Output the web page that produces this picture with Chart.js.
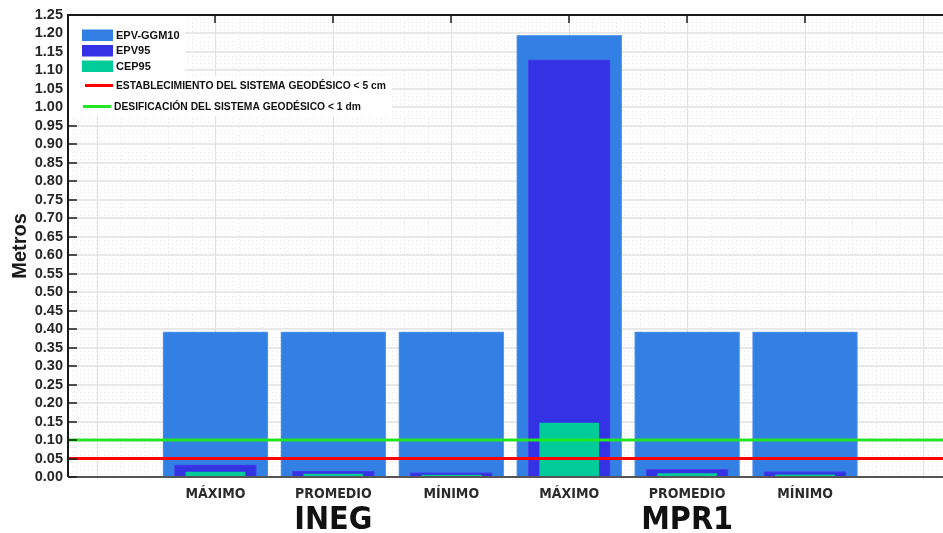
<!DOCTYPE html>
<html>
<head>
<meta charset="utf-8">
<script src="https://cdn.jsdelivr.net/npm/chart.js@4.4.1/dist/chart.umd.min.js"></script>
<style>
  html, body { margin: 0; padding: 0; background: #fff; }
  #wrap { width: 943px; height: 533px; }
</style>
</head>
<body>
<div id="wrap"><canvas id="chart" width="943" height="533"></canvas></div>
<script>
// data
const categories = ['MÁXIMO', 'PROMEDIO', 'MÍNIMO', 'MÁXIMO', 'PROMEDIO', 'MÍNIMO'];
const groups = ['INEG', 'MPR1'];
const epvGgm10 = [0.393, 0.393, 0.393, 1.195, 0.393, 0.393];
const epv95 = [0.033, 0.016, 0.012, 1.129, 0.021, 0.015];
const cep95 = [0.0135, 0.008, 0.005, 0.146, 0.009, 0.006];
const limitEstablecimiento = 0.05;
const limitDesificacion = 0.10;
const yTicks = { min: 0, max: 1.25, step: 0.05 };

const X_MIN = -0.25, X_MAX = 7.17;
const BOLD = "'Liberation Sans', Arial, sans-serif";
const NARROW = "'Liberation Sans Narrow', 'DejaVu Sans Condensed', 'Liberation Sans', sans-serif";

const pts = arr => arr.map((v, i) => ({ x: i + 1, y: v }));
const hline = v => [{ x: X_MIN, y: v }, { x: X_MAX, y: v }];

// background grid: solid majors, dotted minors
const gridPlugin = {
  id: 'grid',
  beforeDatasetsDraw(chart) {
    const { ctx, chartArea: a, scales: { x, y } } = chart;
    ctx.save();
    ctx.lineWidth = 1;
    ctx.strokeStyle = '#e8e8e8';
    ctx.setLineDash([1, 3]);
    for (let v = 0.01; v < yTicks.max; v += 0.01) {
      if (Math.round(v * 100) % 5 === 0) continue;
      const py = Math.round(y.getPixelForValue(v)) + 0.5;
      ctx.beginPath(); ctx.moveTo(a.left, py); ctx.lineTo(a.right, py); ctx.stroke();
    }
    for (let v = -0.2; v < X_MAX; v += 0.2) {
      if (Math.abs(v - Math.round(v)) < 1e-6) continue;
      const px = Math.round(x.getPixelForValue(v)) + 0.5;
      ctx.beginPath(); ctx.moveTo(px, a.top); ctx.lineTo(px, a.bottom); ctx.stroke();
    }
    ctx.setLineDash([]);
    ctx.strokeStyle = '#e0e0e0';
    ctx.lineWidth = 1.5;
    for (let v = yTicks.step; v < yTicks.max - 1e-6; v += yTicks.step) {
      const py = Math.round(y.getPixelForValue(v));
      ctx.beginPath(); ctx.moveTo(a.left, py); ctx.lineTo(a.right, py); ctx.stroke();
    }
    ctx.lineWidth = 1;
    for (let v = 0; v <= 7; v++) {
      const px = Math.round(x.getPixelForValue(v)) + 0.5;
      ctx.beginPath(); ctx.moveTo(px, a.top); ctx.lineTo(px, a.bottom); ctx.stroke();
    }
    ctx.restore();
  }
};

// axes frame, ticks, legend boxes and group names
const framePlugin = {
  id: 'frame',
  afterDatasetsDraw(chart) {
    const { ctx, chartArea: a, scales: { x, y } } = chart;
    ctx.save();
    ctx.strokeStyle = '#1a1a1a';
    ctx.lineWidth = 2;
    ctx.beginPath();
    ctx.moveTo(a.left, a.bottom); ctx.lineTo(a.left, a.top); ctx.lineTo(a.right, a.top);
    ctx.stroke();
    ctx.strokeStyle = '#555';
    ctx.beginPath(); ctx.moveTo(a.left, a.bottom); ctx.lineTo(a.right, a.bottom); ctx.stroke();

    ctx.strokeStyle = '#1a1a1a';
    ctx.lineWidth = 1.5;
    for (let v = 0; v <= yTicks.max + 1e-6; v += yTicks.step) {
      const py = Math.round(y.getPixelForValue(v));
      ctx.beginPath(); ctx.moveTo(a.left, py); ctx.lineTo(a.left + 9, py); ctx.stroke();
    }
    categories.forEach((c, i) => {
      const px = Math.round(x.getPixelForValue(i + 1));
      ctx.beginPath(); ctx.moveTo(px, a.top); ctx.lineTo(px, a.top + 8); ctx.stroke();
    });

    // legend
    const ds = chart.data.datasets;
    ctx.fillStyle = '#fff';
    ctx.fillRect(a.left + 1, a.top + 2, 116, 59);
    ctx.fillRect(a.left + 1, a.top + 61, 323, 40);
    ctx.textBaseline = 'middle';
    ctx.textAlign = 'left';
    const rows = [35, 50.5, 66];
    for (let i = 0; i < 3; i++) {
      ctx.fillStyle = ds[i].backgroundColor;
      ctx.fillRect(82, rows[i] - 5.5, 31, 11.5);
      ctx.fillStyle = '#111';
      ctx.font = 'bold 11px ' + BOLD;
      ctx.fillText(ds[i].label, 116, rows[i] + 0.5);
    }
    const lrows = [[85, 113, 85.5, 116], [83, 111, 106.5, 114]];
    for (let j = 0; j < 2; j++) {
      const d = ds[3 + j], r = lrows[j];
      ctx.strokeStyle = d.borderColor;
      ctx.lineWidth = 3;
      ctx.beginPath(); ctx.moveTo(r[0], r[2]); ctx.lineTo(r[1], r[2]); ctx.stroke();
      ctx.fillStyle = '#111';
      ctx.font = 'bold 10.3px ' + BOLD;
      ctx.fillText(d.label, r[3], r[2] + 0.5);
    }
    ctx.restore();
  },
  afterDraw(chart) {
    const { ctx, scales: { x } } = chart;
    ctx.save();
    ctx.font = 'bold 32px ' + NARROW;
    ctx.fillStyle = '#111';
    ctx.textAlign = 'center';
    ctx.textBaseline = 'middle';
    groups.forEach((g, gi) => {
      const center = gi * 3 + 2;
      ctx.fillText(g, x.getPixelForValue(center), 521);
    });
    ctx.restore();
  }
};

new Chart(document.getElementById('chart'), {
  type: 'bar',
  data: {
    datasets: [
      {
        label: 'EPV-GGM10', data: pts(epvGgm10), order: 3,
        backgroundColor: '#3380e5', borderColor: '#5c9aec', borderWidth: 1,
        barThickness: 105, grouped: false,
      },
      {
        label: 'EPV95', data: pts(epv95), order: 2,
        backgroundColor: '#3333e5', borderColor: '#4545e8', borderWidth: 1,
        barThickness: 82, grouped: false,
      },
      {
        label: 'CEP95', data: pts(cep95), order: 1,
        backgroundColor: '#00cc99', borderColor: '#00cc99', borderWidth: 0,
        barThickness: 59, grouped: false,
      },
      {
        type: 'line', label: 'ESTABLECIMIENTO DEL SISTEMA GEODÉSICO < 5 cm',
        data: hline(limitEstablecimiento), order: 0,
        borderColor: '#ff0000', borderWidth: 3, pointRadius: 0,
      },
      {
        type: 'line', label: 'DESIFICACIÓN DEL SISTEMA GEODÉSICO < 1 dm',
        data: hline(limitDesificacion), order: 0,
        borderColor: '#22e622', borderWidth: 3, pointRadius: 0,
      },
    ],
  },
  options: {
    responsive: false,
    animation: false,
    layout: { padding: { top: 15, right: 0, left: 0, bottom: 0 } },
    plugins: { legend: { display: false }, tooltip: { enabled: false } },
    scales: {
      x: {
        type: 'linear', min: X_MIN, max: X_MAX, offset: false,
        grid: { display: false, drawTicks: false },
        border: { display: false },
        afterFit: s => { s.height = 56; },
        afterBuildTicks: s => { s.ticks = categories.map((c, i) => ({ value: i + 1 })); },
        ticks: {
          autoSkip: false, maxRotation: 0, padding: 9,
          color: '#2b2b2b',
          font: { family: NARROW, size: 14, weight: 'bold' },
          callback: v => categories[v - 1] || '',
        },
      },
      y: {
        min: yTicks.min, max: yTicks.max,
        grid: { display: false, drawTicks: false },
        border: { display: false },
        afterFit: s => { s.width = 68; },
        title: {
          display: true, text: 'Metros', color: '#1a1a1a',
          font: { family: BOLD, size: 20, weight: 'bold' },
          padding: { top: 8, bottom: 0 },
        },
        ticks: {
          stepSize: yTicks.step, autoSkip: false, padding: 5,
          color: '#262626',
          font: { family: BOLD, size: 14.5, weight: 'bold' },
          callback: v => v.toFixed(2),
        },
      },
    },
  },
  plugins: [gridPlugin, framePlugin],
});
</script>
</body>
</html>
